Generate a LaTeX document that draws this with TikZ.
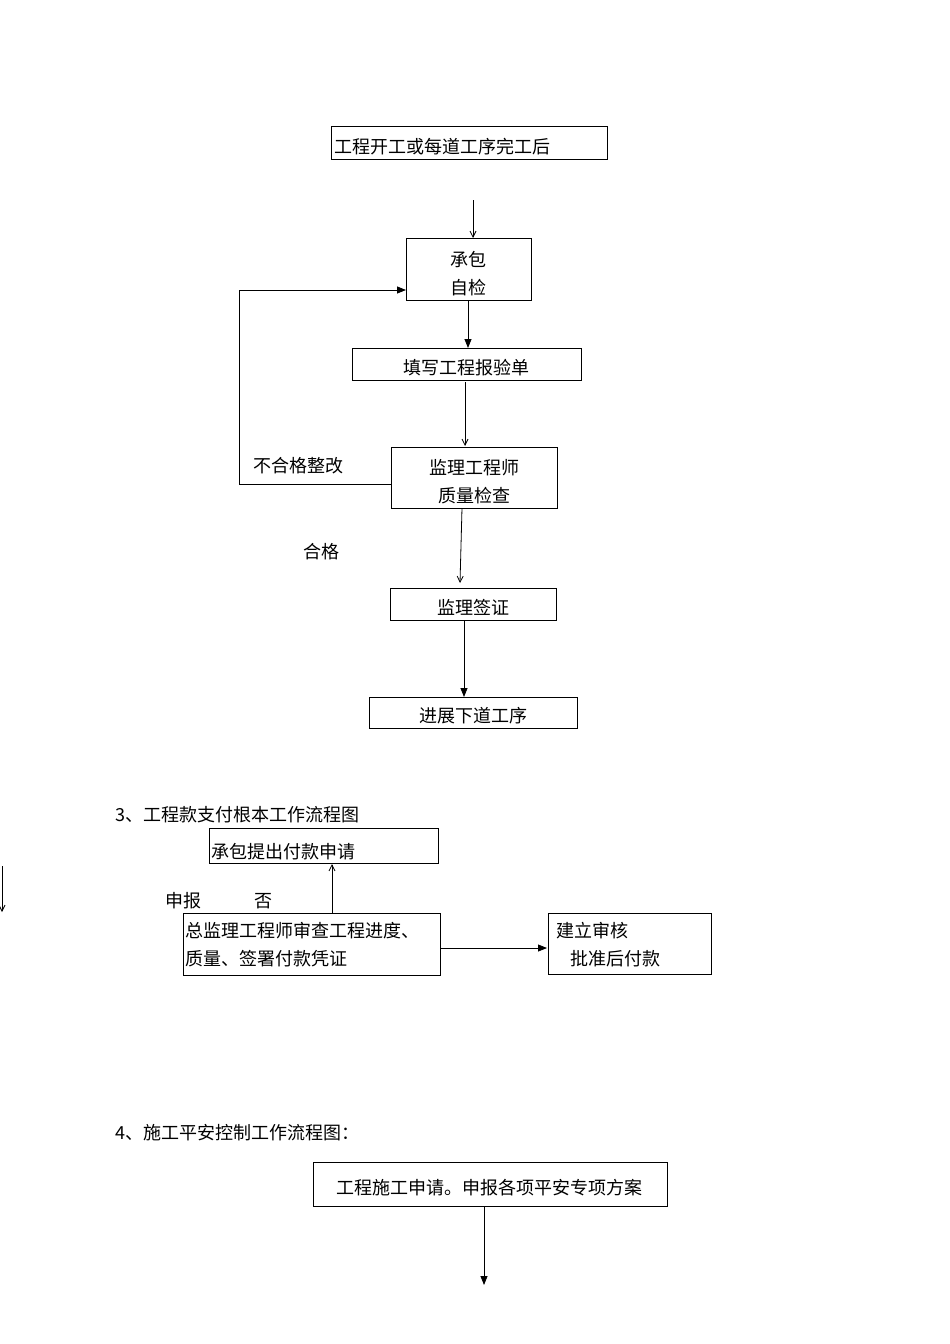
\documentclass[tikz,border=0pt]{standalone}
\usepackage{fontspec}
\newfontfamily\cjk{Noto Sans CJK SC}
\usetikzlibrary{arrows.meta}
\begin{document}
\begin{tikzpicture}[x=1pt,y=-1pt,
  bx/.style={draw,line width=1pt},
  tx/.style={font=\cjk\fontsize{18}{28}\selectfont,inner sep=0pt},
  op/.style={-{Straight Barb[length=6pt,width=6pt]},line width=0.8pt},
  fl/.style={-{Triangle[length=9pt,width=7pt]},line width=0.8pt}]
\useasboundingbox (0,0) rectangle (950,1344);
\draw[bx] (331,126) rectangle (607,159);
\node[tx,anchor=west] (a) at (334,147) {工程开工或每道工序完工后};
\coordinate (a1) at (473,200);
\draw[bx] (406,238) rectangle (531,300);
\node (b) at (468.5,269) {};
\node[tx,align=center] at (468.5,274) {承包\\自检};
\draw[op] (a1) -- (473,238);
\draw[fl] (468,300) -- (468,348);
\draw[bx] (352,348) rectangle (581,380);
\node[tx] (c) at (466,368) {填写工程报验单};
\draw[op] (465,382) -- (465,446);
\draw[bx] (391,447) rectangle (557,508);
\node[tx,align=center] (d) at (474,482) {监理工程师\\质量检查};
\draw[fl] (391,484) -- (239,484) -- (239,290) -- (406,290);
\node[tx] at (298,466) {不合格整改};
\node[tx] at (321,552) {合格};
\draw[op] (462,508) -- (460,583);
\draw[bx] (390,588) rectangle (556,620);
\node[tx] (e) at (473,607) {监理签证};
\draw[fl] (464,620) -- (464,697);
\draw[bx] (369,697) rectangle (577,728);
\node[tx] (f) at (473,716) {进展下道工序};
\node[tx,anchor=west] at (115,815) {3、工程款支付根本工作流程图};
\draw[bx] (209,828) rectangle (438,863);
\node[tx,anchor=west] (g) at (211,852) {承包提出付款申请};
\draw[op] (332,913) -- (332,864);
\node[tx] at (183,901) {申报};
\node[tx] at (263,901) {否};
\draw[bx] (183,913) rectangle (440,975);
\node[tx,anchor=north west,align=left] (h) at (185,922) {总监理工程师审查工程进度、\\质量、签署付款凭证};
\draw[fl] (440,948) -- (547,948);
\draw[bx] (548,913) rectangle (711,974);
\node[tx,anchor=north west,align=left] (i) at (556,922) {建立审核\\\hspace{14pt}批准后付款};
\draw[op] (2,866) -- (2,912);
\node[tx,anchor=west] at (115,1133) {4、施工平安控制工作流程图：};
\draw[bx] (313,1162) rectangle (667,1206);
\node[tx] (j) at (489,1188) {工程施工申请。申报各项平安专项方案};
\draw[fl] (484,1206) -- (484,1285);
\end{tikzpicture}
\end{document}
